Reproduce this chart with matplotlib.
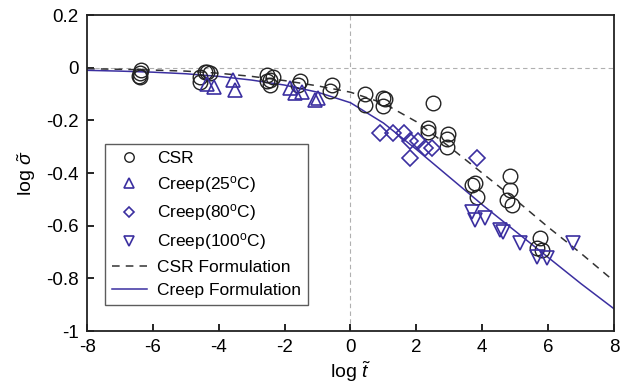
import matplotlib
matplotlib.use('Agg')
import matplotlib.pyplot as plt

plt.rcParams['font.family'] = ['Liberation Sans', 'DejaVu Sans']
plt.rcParams['mathtext.fontset'] = 'custom'
plt.rcParams['mathtext.rm'] = 'Liberation Sans'
plt.rcParams['mathtext.it'] = 'Liberation Sans:italic'

# CSR test points
csr_x = [-6.37, -6.40, -6.42, -6.40,
         -4.57, -4.36, -4.27, -4.57, -4.42,
         -2.54, -2.54, -2.44, -2.35, -2.45,
         -1.53, -1.59,
         -0.57, -0.62,
         0.44, 0.44, 0.99, 0.99, 1.05,
         2.51, 2.36, 2.36,
         2.96, 2.93, 2.93,
         3.68, 3.78, 3.83,
         4.85, 4.85, 4.75, 4.89,
         5.76, 5.66, 5.81]
csr_y = [-0.010, -0.020, -0.030, -0.037,
         -0.037, -0.018, -0.020, -0.056, -0.015,
         -0.026, -0.051, -0.064, -0.037, -0.045,
         -0.051, -0.064,
         -0.064, -0.089,
         -0.100, -0.140, -0.115, -0.146, -0.120,
         -0.134, -0.228, -0.243,
         -0.250, -0.270, -0.300,
         -0.445, -0.437, -0.489,
         -0.413, -0.464, -0.502, -0.521,
         -0.648, -0.686, -0.692]

# creep tests
c25_x = [-4.35, -4.16, -3.56, -3.51, -1.84, -1.68, -1.48, -1.08, -0.98]
c25_y = [-0.060, -0.073, -0.048, -0.083, -0.076, -0.095, -0.091, -0.121, -0.114]

c80_x = [0.90, 1.30, 1.61, 1.81, 2.06, 2.26, 2.47, 1.81, 3.83]
c80_y = [-0.248, -0.248, -0.248, -0.280, -0.280, -0.305, -0.305, -0.343, -0.343]

c100_x = [3.68, 3.78, 4.09, 4.54, 4.64, 5.15, 5.66, 5.96, 6.77]
c100_y = [-0.546, -0.578, -0.572, -0.616, -0.622, -0.667, -0.718, -0.724, -0.667]

# formulation curves
fit_x = [-8, -7, -6, -5, -4, -3, -2, -1, 0, 1, 2, 3, 4, 5, 6, 7, 8]
csr_fit = [-0.004, -0.006, -0.009, -0.013, -0.021, -0.033, -0.049, -0.069, -0.093,
           -0.135, -0.205, -0.300, -0.400, -0.500, -0.605, -0.705, -0.810]
creep_fit = [-0.010, -0.013, -0.017, -0.023, -0.033, -0.047, -0.066, -0.093, -0.133,
             -0.210, -0.310, -0.415, -0.520, -0.620, -0.720, -0.820, -0.915]

blue = '#3b2fa0'

fig = plt.figure(figsize=(6.22, 3.85), dpi=100)
ax = fig.add_axes([0.14, 0.14, 0.847, 0.821])

ax.axhline(0, color='#b0b0b0', ls=(0, (4, 3)), lw=0.8, zorder=1)
ax.axvline(0, color='#b0b0b0', ls=(0, (4, 3)), lw=0.8, zorder=1)

ax.plot(csr_x, csr_y, 'o', ms=10.5, mfc='none', mec='#222222', mew=1.0, label='CSR', zorder=3)
ax.plot(c25_x, c25_y, '^', ms=10.5, mfc='none', mec=blue, mew=1.2, label=r'Creep(25$^{\mathrm{o}}$C)', zorder=3)
ax.plot(c80_x, c80_y, 'D', ms=8, mfc='none', mec=blue, mew=1.2, label=r'Creep(80$^{\mathrm{o}}$C)', zorder=3)
ax.plot(c100_x, c100_y, 'v', ms=10.5, mfc='none', mec=blue, mew=1.2, label=r'Creep(100$^{\mathrm{o}}$C)', zorder=3)
ax.plot(fit_x, csr_fit, color='#333333', ls=(0, (5, 4)), lw=1.1, label='CSR Formulation', zorder=2)
ax.plot(fit_x, creep_fit, color=blue, lw=1.1, label='Creep Formulation', zorder=2)

ax.set_xlim(-8, 8)
ax.set_ylim(-1, 0.2)
ax.set_xticks([-8, -6, -4, -2, 0, 2, 4, 6, 8])
ax.set_xticklabels(['-8', '-6', '-4', '-2', '0', '2', '4', '6', '8'])
ax.set_yticks([0.2, 0, -0.2, -0.4, -0.6, -0.8, -1])
ax.set_yticklabels(['0.2', '0', '-0.2', '-0.4', '-0.6', '-0.8', '-1'])
ax.tick_params(direction='in', labelsize=13.5, length=5, width=1.2, pad=6)
for s in ax.spines.values():
    s.set_linewidth(1.3)
    s.set_color('#222222')

ax.set_xlabel(r'log $\tilde{t}$', fontsize=14, labelpad=2)
ax.set_ylabel(r'log $\tilde{\sigma}$', fontsize=14, labelpad=6)

leg = ax.legend(loc='lower left', bbox_to_anchor=(0.034, 0.082), fontsize=12.5,
                frameon=True, fancybox=False, markerscale=0.65, handlelength=2.0,
                labelspacing=0.45, borderpad=0.4, handletextpad=0.6, borderaxespad=0)
leg.get_frame().set_edgecolor('#333333')
leg.get_frame().set_linewidth(1.0)

fig.savefig('out.png', dpi=100)
